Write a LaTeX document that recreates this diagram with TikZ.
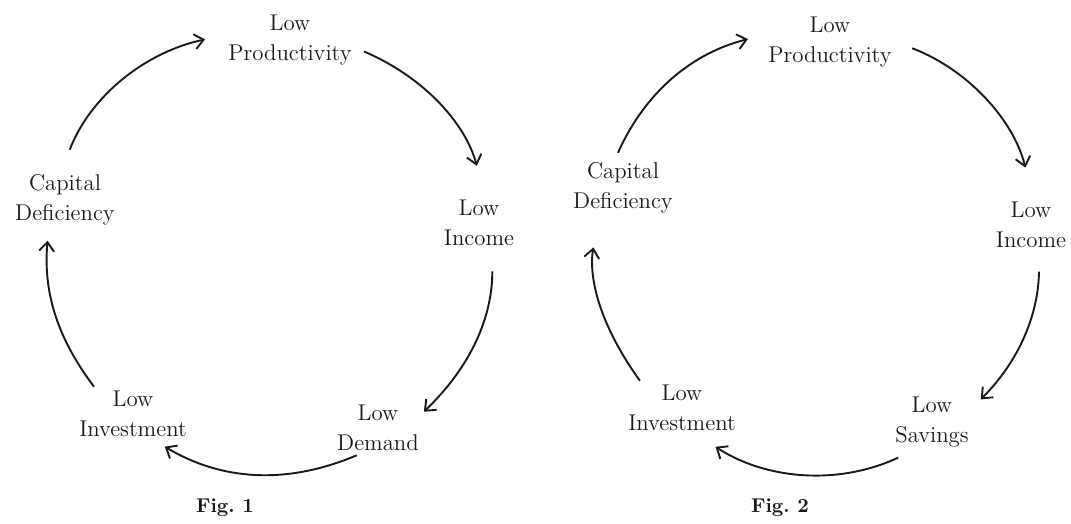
\documentclass[tikz,border=0pt]{standalone}
\usetikzlibrary{arrows.meta}

\begin{document}
\begin{tikzpicture}
    [x=0.5pt,y=0.5pt,
     stage/.style={align=center,inner sep=2pt,text=black!90,
                   font=\fontsize{11.4}{15}\selectfont},
     cycarrow/.style={-{Straight Barb[length=4.5pt,width=7.5pt]},
                      line width=0.95pt,looseness=0.97,black!90},
     caption/.style={font=\fontsize{10}{12}\selectfont\bfseries,text=black!90}]
\useasboundingbox (0,0) rectangle (1071,-524);

% first cycle (demand side)
\path
    (290,-40) node [stage] (prod1) {Low\\Productivity}
    (479,-223) node [stage] (inc1) {Low\\Income}
    (378,-428) node [stage] (dem1) {Low\\Demand}
    (133,-414) node [stage] (inv1) {Low\\Investment}
    (65,-200) node [stage] (cap1) {Capital\\Deficiency}
    (225,-508) node [caption] (fig1) {Fig.\ 1};
\draw [cycarrow,shorten <=11pt,shorten >=9.7pt]
    (cap1.96) to [out=69,in=192] (prod1.176);
\draw [cycarrow,shorten <=4.3pt,shorten >=15.5pt]
    (prod1.-7) to [out=-23,in=105] (inc1.78);
\draw [cycarrow,shorten <=10.5pt,shorten >=0.5pt]
    (inc1.-64) to [out=-90,in=44] (dem1.19);
\draw [cycarrow,shorten >=5.2pt]
    (dem1.232) to [out=-157,in=-31] (inv1.-50);
\draw [cycarrow,shorten >=5.5pt]
    (inv1.145) to [out=127,in=265] (cap1.241);

% second cycle (supply side)
\path
    (830,-42) node [stage] (prod2) {Low\\Productivity}
    (1031,-225) node [stage] (inc2) {Low\\Income}
    (932,-422) node [stage] (sav2) {Low\\Savings}
    (682,-408) node [stage] (inv2) {Low\\Investment}
    (623,-188) node [stage] (cap2) {Capital\\Deficiency}
    (780,-508) node [caption] (fig2) {Fig.\ 2};
\draw [cycarrow,shorten <=3pt,shorten >=8.3pt]
    (cap2.104) to [out=66,in=194] (prod2.174);
\draw [cycarrow,shorten <=8.7pt,shorten >=15.5pt]
    (prod2.0) to [out=-21,in=104] (inc2.86);
\draw [cycarrow,shorten <=9.7pt,shorten >=5.4pt]
    (inc2.-73) to [out=-91,in=45] (sav2.20);
\draw [cycarrow,shorten <=7.2pt,shorten >=10.6pt]
    (sav2.235) to [out=-155,in=-33] (inv2.-60);
\draw [cycarrow,shorten >=15pt]
    (inv2.147) to [out=126,in=261] (cap2.230);
\end{tikzpicture}
\end{document}
